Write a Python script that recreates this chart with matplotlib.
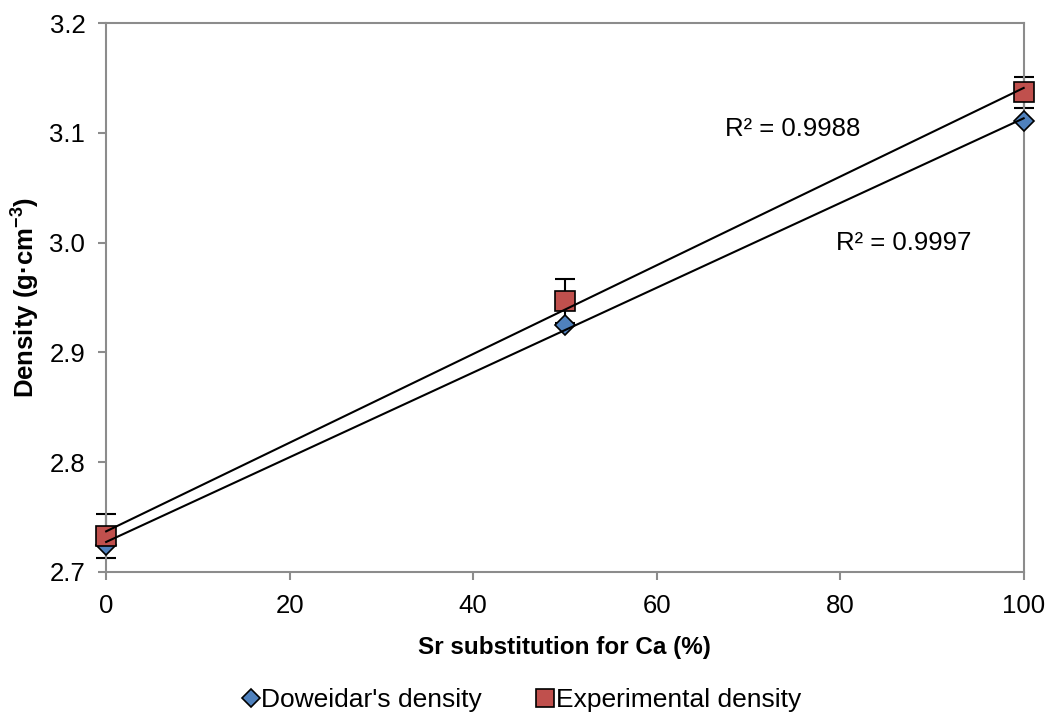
import numpy as np
import matplotlib.pyplot as plt

plt.rcParams["font.family"] = ["Liberation Sans", "DejaVu Sans"]
plt.rcParams["mathtext.fontset"] = "custom"
plt.rcParams["mathtext.rm"] = "Liberation Sans"
plt.rcParams["mathtext.bf"] = "Liberation Sans:bold"

sr_pct = [0, 50, 100]
doweidar = [2.725, 2.925, 3.111]
experimental = [2.733, 2.947, 3.137]
exp_err = [0.020, 0.020, 0.014]

r2_labels = ["R² = 0.9988", "R² = 0.9997"]

fig = plt.figure(figsize=(10.51, 7.24), dpi=100)
ax = fig.add_axes([0.101, 0.21, 0.873, 0.758])

xs = np.array([0, 100])
for ys in (doweidar, experimental):
    slope, intercept = np.polyfit(sr_pct, ys, 1)
    ax.plot(xs, slope * xs + intercept, color="black", lw=1.5, zorder=5,
            clip_on=False)

ax.errorbar(sr_pct, experimental, yerr=exp_err, fmt="none", ecolor="black",
            elinewidth=1.5, capsize=7, capthick=1.5, zorder=1, clip_on=False)

ax.plot(sr_pct, doweidar, ls="none", marker="D", ms=10.5, mfc="#4F81BD",
        mec="black", mew=1.2, label="Doweidar's density", zorder=3,
        clip_on=False)
ax.plot(sr_pct, experimental, ls="none", marker="s", ms=14.5, mfc="#C0504D",
        mec="black", mew=1.2, label="Experimental density", zorder=4,
        clip_on=False)

ax.text(67.4, 3.1036, r2_labels[0], fontsize=18.5, va="center", ha="left")
ax.text(79.5, 3.0, r2_labels[1], fontsize=18.5, va="center", ha="left")

ax.set_xlim(0, 100)
ax.set_ylim(2.7, 3.2)
ax.set_xticks([0, 20, 40, 60, 80, 100])
ax.set_yticks([2.7, 2.8, 2.9, 3.0, 3.1, 3.2])
ax.set_yticklabels(["2.7", "2.8", "2.9", "3.0", "3.1", "3.2"])
ax.tick_params(labelsize=18.5, direction="out", length=6, color="#8C8C8C",
               width=1.5, pad=9)
ax.tick_params(axis="x", pad=10)
for s in ax.spines.values():
    s.set_color("#8C8C8C")
    s.set_linewidth(1.5)

ax.set_xlabel("Sr substitution for Ca (%)", fontsize=17.5, fontweight="bold",
              labelpad=13)
ax.set_ylabel("Density (g·cm$^{\\mathbf{-3}}$)", fontsize=18.5,
              fontweight="bold", labelpad=6)

fig.legend(loc="center", bbox_to_anchor=(0.493, 0.033), ncol=2, frameon=False,
           fontsize=19, handletextpad=-0.2, columnspacing=1.8, markerscale=0.9,
           handlelength=1.2)

fig.savefig("out.png", dpi=100)
